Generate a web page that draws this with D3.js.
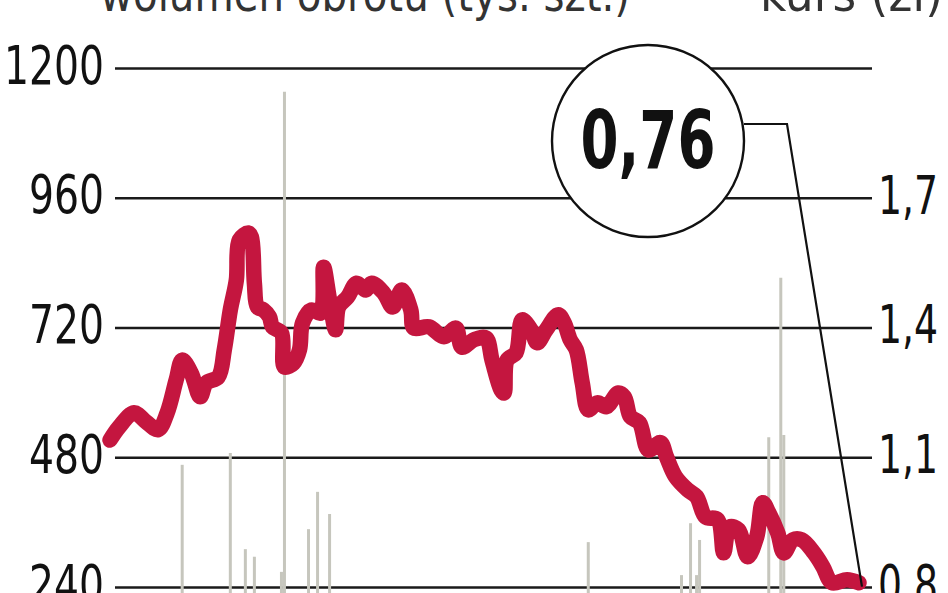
<!DOCTYPE html>
<html>
<head>
<meta charset="utf-8">
<script src="https://cdn.jsdelivr.net/npm/d3@7"></script>
<style>
  html, body { margin: 0; padding: 0; background: #fff; }
  svg { display: block; }
</style>
</head>
<body>
<svg id="chart" width="948" height="593"></svg>
<script>
// ---- data ----
const volumeTicks = [240, 480, 720, 960, 1200];
const priceTicks = [0.8, 1.1, 1.4, 1.7];

// trading day index and closing price (zł)
const priceDays = [0,3,8,12,16,19,22,24,27,30,32,36,38,40,42,43,46,47,48,49,51,53,54,57,58,61,63,64,67,70,71,73,75,76,79,82,85,87,91,94,97,100,101,106,111,115,117,121,125,127,130,131,132,135,137,140,142,145,149,151,153,155,157,159,162,165,169,171,173,176,179,183,185,188,192,195,198,202,204,206,209,212,215,217,219,222,224,227,230,234,237,240,245,249];
const prices = [1.140,1.170,1.203,1.182,1.164,1.203,1.279,1.325,1.295,1.240,1.272,1.286,1.349,1.441,1.510,1.603,1.619,1.610,1.503,1.448,1.441,1.425,1.402,1.388,1.309,1.318,1.349,1.411,1.441,1.434,1.540,1.464,1.395,1.448,1.471,1.503,1.487,1.503,1.480,1.448,1.487,1.441,1.399,1.402,1.379,1.399,1.355,1.372,1.376,1.325,1.256,1.249,1.325,1.342,1.418,1.395,1.365,1.395,1.430,1.411,1.372,1.349,1.272,1.210,1.226,1.217,1.249,1.240,1.194,1.180,1.117,1.134,1.101,1.055,1.025,1.009,0.962,0.956,0.879,0.939,0.932,0.870,0.916,0.995,0.972,0.925,0.879,0.909,0.909,0.879,0.847,0.810,0.817,0.810];

// volume spikes (thousand shares)
const volumeDays = [24,40,45,48,57,58,66,69,73,159,190,193,195,196,219,223,224];
const volumes = [466,488,310,296,268,1156,347,416,375,323,262,358,262,327,517,812,521];

const lastPriceLabel = "0,76";
const volumeLegend = "wolumen obrotu (tys. szt.)";
const priceLegend = "— kurs (zł)";

// ---- drawing ----
const svg = d3.select("#chart");
const FONT = '"DejaVu Sans Condensed", "DejaVu Sans", sans-serif';

const x = d3.scaleLinear().domain([0, 250]).range([110, 862]);
const yVol = d3.scaleLinear().domain([240, 1200]).range([587, 68]);
const yPrice = d3.scaleLinear().domain([0.8, 1.7]).range([587, 198]);

// width of a narrow label: digits ~25px, comma ~10px
const labelWidth = s => s.split("").reduce((w, c) => w + (c === "," ? 10 : 25), 0);

// title (partially cut off at top, as in the source)
svg.append("text").attr("x", 100).attr("y", 11)
  .attr("font-family", FONT).attr("font-size", 48).attr("fill", "#333")
  .attr("textLength", 530).attr("lengthAdjust", "spacingAndGlyphs")
  .text(volumeLegend);
svg.append("text").attr("x", 700).attr("y", 11)
  .attr("font-family", FONT).attr("font-size", 48).attr("fill", "#333")
  .attr("textLength", 243).attr("lengthAdjust", "spacingAndGlyphs")
  .text(priceLegend);

// left axis with gridlines
const leftAxis = svg.append("g").attr("transform", "translate(115,0)")
  .call(d3.axisLeft(yVol).tickValues(volumeTicks).tickSize(-757).tickPadding(11).tickFormat(d3.format("d")));
leftAxis.select(".domain").remove();
leftAxis.selectAll(".tick line").attr("stroke", "#1a1a1a").attr("stroke-width", 2.6);
leftAxis.selectAll(".tick text")
  .attr("font-family", FONT).attr("font-size", 54).attr("fill", "#111").attr("dy", "0.28em")
  .attr("textLength", function() { return labelWidth(this.textContent); })
  .attr("lengthAdjust", "spacingAndGlyphs");

// right axis labels
const rightAxis = svg.append("g").attr("transform", "translate(872,0)")
  .call(d3.axisRight(yPrice).tickValues(priceTicks).tickSize(0).tickPadding(6)
    .tickFormat(d => d3.format(".1f")(d).replace(".", ",")));
rightAxis.select(".domain").remove();
rightAxis.selectAll(".tick text")
  .attr("font-family", FONT).attr("font-size", 54).attr("fill", "#111").attr("dy", "0.28em")
  .attr("textLength", function() { return labelWidth(this.textContent); })
  .attr("lengthAdjust", "spacingAndGlyphs");

// volume bars
svg.append("g").selectAll("line").data(volumeDays).join("line")
  .attr("x1", d => x(d)).attr("x2", d => x(d))
  .attr("y1", yVol(0)).attr("y2", (d, i) => yVol(volumes[i]))
  .attr("stroke", "#c6c6bd").attr("stroke-width", 3);

// price line
const pts = priceDays.map((d, i) => [x(d), yPrice(prices[i])]);
svg.append("path").datum(pts)
  .attr("d", d3.line().curve(d3.curveCatmullRom.alpha(0.5)))
  .attr("fill", "none").attr("stroke", "#c4163f").attr("stroke-width", 15.5)
  .attr("stroke-linejoin", "round").attr("stroke-linecap", "round");

// callout
const last = pts[pts.length - 1];
svg.append("polyline")
  .attr("points", [[744, 124], [787, 124], [last[0] + 3, last[1] + 4]].map(p => p.join(",")).join(" "))
  .attr("fill", "none").attr("stroke", "#111").attr("stroke-width", 2.2);
svg.append("circle").attr("cx", 648).attr("cy", 141).attr("r", 96)
  .attr("fill", "#fff").attr("stroke", "#111").attr("stroke-width", 2.4);
svg.append("text").attr("x", 648).attr("y", 168).attr("text-anchor", "middle")
  .attr("font-family", FONT).attr("font-weight", "bold").attr("font-size", 80).attr("fill", "#111")
  .attr("textLength", 135).attr("lengthAdjust", "spacingAndGlyphs")
  .text(lastPriceLabel);
</script>
</body>
</html>
